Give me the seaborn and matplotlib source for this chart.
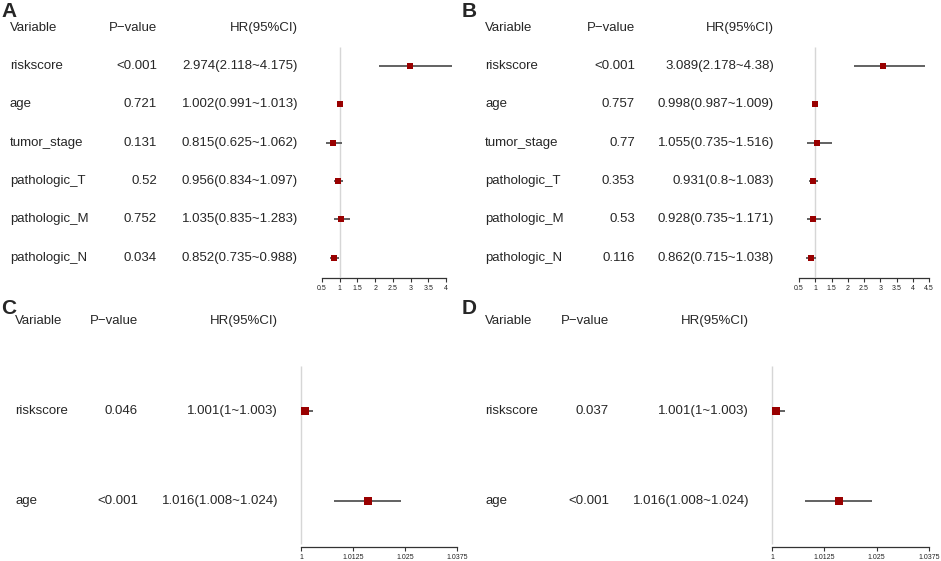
import matplotlib
matplotlib.use('Agg')
import matplotlib.pyplot as plt
import matplotlib.transforms as mtransforms
import seaborn as sns

# %%
# Forest plot data
# Top panels (A, B): six variables
variables_top = ['riskscore', 'age', 'tumor_stage', 'pathologic_T', 'pathologic_M', 'pathologic_N']

p_A = ['<0.001', '0.721', '0.131', '0.52', '0.752', '0.034']
hr_A = [2.974, 1.002, 0.815, 0.956, 1.035, 0.852]
lo_A = [2.118, 0.991, 0.625, 0.834, 0.835, 0.735]
hi_A = [4.175, 1.013, 1.062, 1.097, 1.283, 0.988]

p_B = ['<0.001', '0.757', '0.77', '0.353', '0.53', '0.116']
hr_B = [3.089, 0.998, 1.055, 0.931, 0.928, 0.862]
lo_B = [2.178, 0.987, 0.735, 0.8, 0.735, 0.715]
hi_B = [4.38, 1.009, 1.516, 1.083, 1.171, 1.038]

# Bottom panels (C, D): two variables
variables_bottom = ['riskscore', 'age']

p_C = ['0.046', '<0.001']
hr_C = [1.001, 1.016]
lo_C = [1, 1.008]
hi_C = [1.003, 1.024]

p_D = ['0.037', '<0.001']
hr_D = [1.001, 1.016]
lo_D = [1, 1.008]
hi_D = [1.003, 1.024]

ticks_A = [0.5, 1, 1.5, 2, 2.5, 3, 3.5, 4]
ticks_B = [0.5, 1, 1.5, 2, 2.5, 3, 3.5, 4, 4.5]
ticks_CD = [1, 1.0125, 1.025, 1.0375]

# %%
sns.set_theme(style='white')
plt.rcParams['font.family'] = ['Liberation Sans', 'DejaVu Sans']

W, H = 941, 561
fig = plt.figure(figsize=(W / 100, H / 100), dpi=100)

BOX = '#990000'
CI = '#555555'
REF = '#d6d6d6'
FS = 9.5


def draw_panel(letter, variables, pvals, hr, lo, hi, ticks, lay):
    # lay holds pixel geometry of the panel
    left, right = lay['ax_x']
    top, axis_y = lay['top'], lay['axis']
    ax = fig.add_axes([left / W, 1 - axis_y / H, (right - left) / W, (axis_y - top) / H])
    ax.set_facecolor('none')

    # x limits from the pixel positions of the first and last tick
    px0, px1 = lay['tick_px']
    scale = (px1 - px0) / (ticks[-1] - ticks[0])
    ax.set_xlim(ticks[0] - (px0 - left) / scale, ticks[0] + (right - px0) / scale)

    row0, step = lay['row0'], lay['step']
    r_bottom = (axis_y - row0) / step
    ax.set_ylim(r_bottom, (top - row0) / step)

    rows = list(range(len(variables)))
    ax.vlines(1, -0.5, r_bottom - 0.03, color=REF, lw=1, zorder=1)
    ax.hlines(rows, lo, hi, color=CI, lw=1.3, zorder=2)
    sns.scatterplot(x=hr, y=rows, marker='s', s=lay['ms'], color=BOX,
                    linewidth=0, ax=ax, zorder=3, legend=False)
    ax.set_xlim(ticks[0] - (px0 - left) / scale, ticks[0] + (right - px0) / scale)
    ax.set_ylim(r_bottom, (top - row0) / step)

    for s in ['left', 'top', 'right']:
        ax.spines[s].set_visible(False)
    ax.spines['bottom'].set_bounds(ticks[0], ticks[-1])
    ax.spines['bottom'].set_color('#333333')
    ax.spines['bottom'].set_linewidth(0.9)
    ax.set_yticks([])
    ax.set_xticks(ticks)
    ax.set_xticklabels([f'{t:g}' for t in ticks])
    ax.tick_params(axis='x', bottom=True, direction='out', length=3, width=0.8,
                   color='#333333', labelsize=5, pad=2, labelcolor='#222222')
    ax.set_xlabel('')
    ax.set_ylabel('')

    # table text, x in figure pixels, y in rows
    trans = mtransforms.blended_transform_factory(fig.transFigure, ax.transData)
    vx, px_r, hx_r = lay['cols']
    ax.text(vx / W, -1, 'Variable', transform=trans, ha='left', va='center', fontsize=FS)
    ax.text(px_r / W, -1, 'P\u2212value', transform=trans, ha='right', va='center', fontsize=FS)
    ax.text(hx_r / W, -1, 'HR(95%CI)', transform=trans, ha='right', va='center', fontsize=FS)
    for i, name in enumerate(variables):
        ax.text(vx / W, i, name, transform=trans, ha='left', va='center', fontsize=FS)
        ax.text(px_r / W, i, pvals[i], transform=trans, ha='right', va='center', fontsize=FS)
        ax.text(hx_r / W, i, f'{hr[i]:g}({lo[i]:g}~{hi[i]:g})', transform=trans,
                ha='right', va='center', fontsize=FS)

    lx, ly = lay['letter']
    fig.text(lx / W, 1 - ly / H, letter, fontsize=15, fontweight='bold',
             ha='left', va='baseline')


top_lay = dict(top=8, axis=278, row0=66, step=38.35, ms=14)
bot_lay = dict(top=300, axis=547, row0=411, step=90, ms=34)

draw_panel('A', variables_top, p_A, hr_A, lo_A, hi_A, ticks_A,
           dict(top_lay, ax_x=(300, 470), tick_px=(322, 446), cols=(10, 157, 298), letter=(1, 17)))
draw_panel('B', variables_top, p_B, hr_B, lo_B, hi_B, ticks_B,
           dict(top_lay, ax_x=(780, 941), tick_px=(799, 929), cols=(485, 635, 774), letter=(462, 17)))
draw_panel('C', variables_bottom, p_C, hr_C, lo_C, hi_C, ticks_CD,
           dict(bot_lay, ax_x=(290, 470), tick_px=(301, 457), cols=(15, 138, 278), letter=(1, 314)))
draw_panel('D', variables_bottom, p_D, hr_D, lo_D, hi_D, ticks_CD,
           dict(bot_lay, ax_x=(760, 941), tick_px=(772, 929), cols=(485, 609, 749), letter=(462, 314)))

fig.savefig('out.png', dpi=100)
